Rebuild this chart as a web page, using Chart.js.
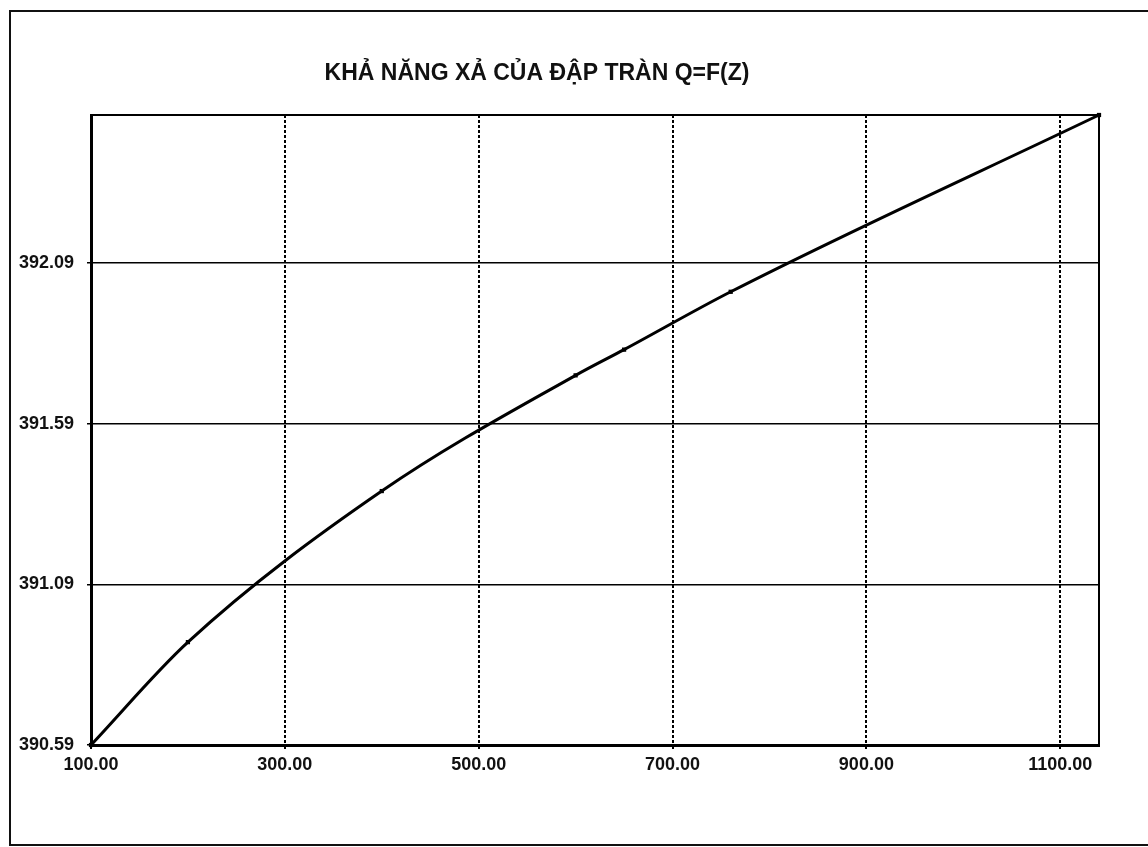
<!DOCTYPE html>
<html>
<head>
<meta charset="utf-8">
<script src="https://cdn.jsdelivr.net/npm/chart.js@4.4.1/dist/chart.umd.min.js"></script>
<style>
  html, body { margin: 0; padding: 0; background: #fff; }
  #wrap { width: 1148px; height: 847px; position: relative; }
</style>
</head>
<body>
<div id="wrap"><canvas id="c" width="1148" height="847"></canvas></div>
<script>
const chartTitle = "KHẢ NĂNG XẢ CỦA ĐẬP TRÀN Q=F(Z)";
const dischargeQ = [100, 200, 400, 600, 650, 760, 1140];
const waterLevelZ = [390.59, 390.91, 391.38, 391.74, 391.82, 392.00, 392.55];
const xTickValues = [100, 300, 500, 700, 900, 1100];
const yTickValues = [390.59, 391.09, 391.59, 392.09];
const xMin = 100, xMax = 1140;
const yMin = 390.59, yMax = 392.55;

const points = dischargeQ.map((q, i) => ({ x: q, y: waterLevelZ[i] }));

const decorPlugin = {
  id: 'decor',
  beforeDraw(chart) {
    const ctx = chart.ctx;
    ctx.save();
    ctx.fillStyle = '#fff';
    ctx.fillRect(0, 0, chart.width, chart.height);
    // outer frame
    ctx.strokeStyle = '#111';
    ctx.lineWidth = 2;
    ctx.beginPath();
    ctx.moveTo(1148, 11);
    ctx.lineTo(10, 11);
    ctx.lineTo(10, 845);
    ctx.lineTo(1148, 845);
    ctx.stroke();
    // title
    ctx.fillStyle = '#111';
    ctx.font = 'bold 23px "Liberation Sans", Arial, sans-serif';
    ctx.textAlign = 'center';
    ctx.textBaseline = 'alphabetic';
    ctx.fillText(chartTitle, 537, 80);
    ctx.restore();
  },
  afterDatasetsDraw(chart) {
    const { ctx, chartArea: a } = chart;
    ctx.save();
    ctx.strokeStyle = '#000';
    ctx.lineWidth = 2;
    ctx.beginPath();
    ctx.moveTo(a.left, a.top);
    ctx.lineTo(a.right, a.top);
    ctx.lineTo(a.right, a.bottom);
    ctx.stroke();
    ctx.restore();
  }
};

new Chart(document.getElementById('c'), {
  type: 'scatter',
  data: {
    datasets: [{
      data: points,
      showLine: true,
      borderColor: '#000',
      backgroundColor: '#000',
      borderWidth: 3,
      pointRadius: 3,
      pointStyle: 'rect',
      pointBackgroundColor: '#000',
      pointBorderWidth: 0,
      cubicInterpolationMode: 'monotone',
      clip: false
    }]
  },
  options: {
    responsive: false,
    animation: false,
    devicePixelRatio: 1,
    layout: { padding: { left: 0, top: 115, right: 49, bottom: 0 } },
    plugins: {
      legend: { display: false },
      title: { display: false },
      tooltip: { enabled: false }
    },
    scales: {
      x: {
        type: 'linear',
        min: xMin,
        max: xMax,
        afterBuildTicks(scale) { scale.ticks = xTickValues.map(v => ({ value: v })); },
        afterFit(scale) { scale.height = 102; },
        ticks: {
          color: '#111',
          font: { family: '"Liberation Sans", Arial, sans-serif', size: 18, weight: 'bold' },
          padding: 5,
          maxRotation: 0,
          autoSkip: false,
          callback: v => Number(v).toFixed(2)
        },
        grid: {
          color: '#000',
          lineWidth: 2,
          tickLength: 4,
          tickColor: '#000',
          drawOnChartArea: true
        },
        border: { display: true, color: '#000', width: 3, dash: [3, 2] }
      },
      y: {
        type: 'linear',
        min: yMin,
        max: yMax,
        afterBuildTicks(scale) { scale.ticks = yTickValues.map(v => ({ value: v })); },
        afterFit(scale) { scale.width = 91; },
        ticks: {
          color: '#111',
          font: { family: '"Liberation Sans", Arial, sans-serif', size: 18, weight: 'bold' },
          padding: 13,
          autoSkip: false,
          callback: v => Number(v).toFixed(2)
        },
        grid: {
          color: '#000',
          lineWidth: 1.5,
          tickLength: 4,
          tickColor: '#000'
        },
        border: { display: true, color: '#000', width: 3 }
      }
    }
  },
  plugins: [decorPlugin]
});
</script>
</body>
</html>
